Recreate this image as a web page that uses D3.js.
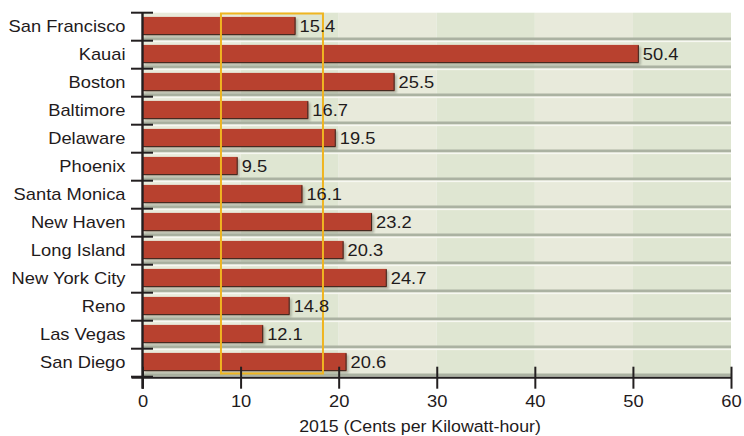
<!DOCTYPE html>
<html>
<head>
<meta charset="utf-8">
<script src="https://cdn.jsdelivr.net/npm/d3@7"></script>
<style>
    body { margin: 0; background: #fff; }
    svg text {
        font-family: "Liberation Sans", Arial, Helvetica, sans-serif;
        font-size: 16.8px;
        fill: #1f1b1c;
    }
    /* reference type is a bit wider than Arial, stretch it horizontally */
    .wide { transform-box: fill-box; transform: scaleX(1.09); }
    .wide-end { transform-origin: 100% 50%; }
    .wide-start { transform-origin: 0% 50%; }
    .wide-mid { transform-origin: 50% 50%; }
    svg text.title { font-size: 16.3px; }
</style>
</head>
<body>
<div id="chart"></div>
<script>
// Residential electricity price by city, 2015 (cents per kWh)
const cities = [
    "San Francisco", "Kauai", "Boston", "Baltimore", "Delaware", "Phoenix",
    "Santa Monica", "New Haven", "Long Island", "New York City", "Reno",
    "Las Vegas", "San Diego",
];
const rates = [15.4, 50.4, 25.5, 16.7, 19.5, 9.5, 16.1, 23.2, 20.3, 24.7, 14.8, 12.1, 20.6];
const xTicks = [0, 10, 20, 30, 40, 50, 60];
// shaded column bands behind the rows (alternating every 10 cents)
const shadeBands = [[0, 10], [10, 20], [20, 30], [30, 40], [40, 50], [50, 60]];
// yellow outline box (range marked on the chart)
const highlightRange = [8, 18.4];
const axisTitle = "2015 (Cents per Kilowatt-hour)";

const WIDTH = 744;
const HEIGHT = 436;
const PLOT = { left: 142.5, right: 731, top: 12.7, bottom: 376.7 };

const COLORS = {
    light: "#e8eadb",
    green: "#dfe6d2",
    strip: "#abb2a2",
    bar: "#b8412f",
    barEdge: "#3b2821",
    axis: "#231f20",
    box: "#efb521",
};

const svg = d3.select("#chart")
    .append("svg")
    .attr("width", WIDTH)
    .attr("height", HEIGHT);

const defs = svg.append("defs");
defs.append("filter")
    .attr("id", "soft")
    .attr("x", "-10%").attr("y", "-30%")
    .attr("width", "120%").attr("height", "160%")
    .append("feGaussianBlur")
    .attr("stdDeviation", 1.2);

// Scales
const x = d3.scaleLinear()
    .domain([0, 60])
    .range([PLOT.left, PLOT.right]);

const y = d3.scaleBand()
    .domain(cities)
    .range([PLOT.top, PLOT.bottom])
    .paddingInner(0)
    .paddingOuter(0);

const rowH = y.step();

function stretch(sel, anchor) {
    sel.attr("class", (d, i, n) => {
        const extra = n[i].getAttribute("data-cls") || "";
        return `wide wide-${anchor} ${extra}`.trim();
    });
}

// Column shading
svg.append("g")
    .selectAll("rect")
    .data(shadeBands)
    .join("rect")
    .attr("x", (d) => x(d[0]))
    .attr("y", PLOT.top)
    .attr("width", (d) => x(d[1]) - x(d[0]))
    .attr("height", PLOT.bottom - PLOT.top)
    .attr("fill", (d, i) => (i % 2 ? COLORS.green : COLORS.light));

// Row separators: grey strip then a thin white line at each row bottom
const rows = svg.append("g");
rows.selectAll("rect.strip")
    .data(cities)
    .join("rect")
    .attr("class", "strip")
    .attr("x", PLOT.left)
    .attr("y", (d) => y(d) + rowH - 3.2)
    .attr("width", PLOT.right - PLOT.left)
    .attr("height", 3)
    .attr("fill", COLORS.strip);
rows.selectAll("rect.white")
    .data(cities.slice(0, -1))
    .join("rect")
    .attr("class", "white")
    .attr("x", PLOT.left)
    .attr("y", (d) => y(d) + rowH - 0.2)
    .attr("width", PLOT.right - PLOT.left)
    .attr("height", 1.6)
    .attr("fill", "#f7f8f2");

// Bars
const data = cities.map((c, i) => ({ city: c, value: rates[i] }));
const BAR_TOP = 4.2;
const BAR_H = 18.2;

const bars = svg.append("g");
bars.selectAll("rect.shadow")
    .data(data)
    .join("rect")
    .attr("class", "shadow")
    .attr("x", x(0) + 2)
    .attr("y", (d) => y(d.city) + BAR_TOP + 2)
    .attr("width", (d) => x(d.value) - x(0) + 2)
    .attr("height", BAR_H)
    .attr("fill", "#6c7463")
    .attr("opacity", 0.45)
    .attr("filter", "url(#soft)");

bars.selectAll("rect.bar")
    .data(data)
    .join("rect")
    .attr("class", "bar")
    .attr("x", x(0))
    .attr("y", (d) => y(d.city) + BAR_TOP)
    .attr("width", (d) => x(d.value) - x(0) + 2)
    .attr("height", BAR_H)
    .attr("fill", COLORS.bar);

// dark bottom + right edge of every bar
bars.selectAll("path.edge")
    .data(data)
    .join("path")
    .attr("class", "edge")
    .attr("d", (d) => {
        const x1 = x(d.value) + 2 - 0.5;
        const yTop = y(d.city) + BAR_TOP;
        const yBot = yTop + BAR_H - 0.5;
        return `M${x(0)},${yBot}H${x1}V${yTop + 0.5}`;
    })
    .attr("fill", "none")
    .attr("stroke", COLORS.barEdge)
    .attr("stroke-width", 1);

// Highlight box
svg.append("rect")
    .attr("x", x(highlightRange[0]))
    .attr("y", PLOT.top + 0.8)
    .attr("width", x(highlightRange[1]) - x(highlightRange[0]))
    .attr("height", PLOT.bottom - PLOT.top - 4)
    .attr("fill", "none")
    .attr("stroke", COLORS.box)
    .attr("stroke-width", 2);

// Value labels
svg.append("g")
    .selectAll("text")
    .data(data)
    .join("text")
    .attr("x", (d) => x(d.value) + 6)
    .attr("y", (d) => y(d.city) + BAR_TOP + BAR_H / 2 + 0.5)
    .attr("dy", "0.35em")
    .text((d) => d.value.toFixed(1))
    .call(stretch, "start");

// Y axis: category labels centred on rows, ticks on row boundaries
const yAxis = svg.append("g")
    .attr("transform", `translate(${PLOT.left},0)`)
    .call(d3.axisLeft(y).tickSize(0).tickPadding(17));
yAxis.select(".domain").remove();
yAxis.selectAll(".tick text")
    .attr("font-family", null)
    .attr("font-size", null)
    .attr("fill", null)
    .call(stretch, "end");

const edges = cities.map((c) => y(c)).concat([PLOT.bottom]);
svg.append("g")
    .selectAll("line")
    .data(edges)
    .join("line")
    .attr("x1", PLOT.left - 11.5).attr("x2", PLOT.left + 10.5)
    .attr("y1", (d) => d).attr("y2", (d) => d)
    .attr("stroke", COLORS.axis)
    .attr("stroke-width", 2);

svg.append("line")
    .attr("x1", PLOT.left).attr("x2", PLOT.left)
    .attr("y1", PLOT.top).attr("y2", PLOT.bottom + 12)
    .attr("stroke", COLORS.axis)
    .attr("stroke-width", 2.4);

// X axis
const xAxis = svg.append("g")
    .attr("transform", `translate(0,${PLOT.bottom + 1})`)
    .call(d3.axisBottom(x).tickValues(xTicks).tickSize(11).tickFormat(d3.format("d")));
xAxis.select(".domain")
    .attr("d", `M${PLOT.left - 11},0H${PLOT.right}`)
    .attr("stroke", COLORS.axis)
    .attr("stroke-width", 2);
xAxis.selectAll(".tick line")
    .attr("y1", -11)
    .attr("y2", 11)
    .attr("stroke", COLORS.axis)
    .attr("stroke-width", 2);
xAxis.selectAll(".tick text")
    .attr("font-family", null)
    .attr("font-size", null)
    .attr("fill", null)
    .attr("y", 29)
    .attr("dy", 0)
    .call(stretch, "mid");

svg.append("text")
    .attr("data-cls", "title")
    .attr("x", 420)
    .attr("y", 432.5)
    .attr("text-anchor", "middle")
    .text(axisTitle)
    .call(stretch, "mid");
</script>
</body>
</html>
